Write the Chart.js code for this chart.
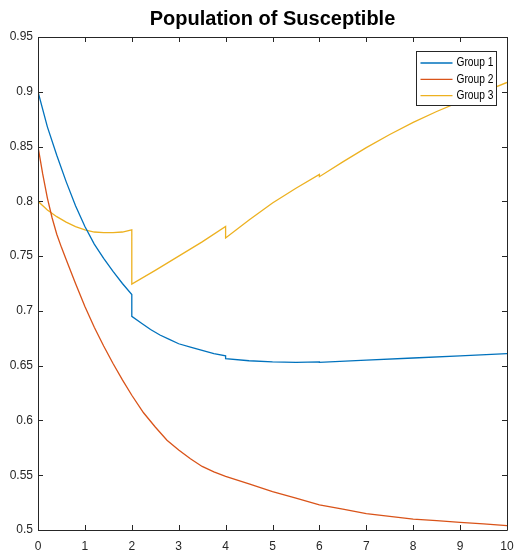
<!DOCTYPE html>
<html>
<head>
<meta charset="utf-8">
<script src="https://cdn.jsdelivr.net/npm/chart.js@4.4.1/dist/chart.umd.min.js"></script>
<style>
html,body{margin:0;padding:0;background:#fff;}
#wrap{width:514px;height:556px;position:relative;}
</style>
</head>
<body>
<div id="wrap"><canvas id="popChart" width="514" height="556"></canvas></div>
<script>

// data
const g1Time=[0,0.2,0.4,0.6,0.8,1,1.2,1.4,1.6,1.8,2,2,2.2,2.4,2.6,2.8,3,3.25,3.5,3.75,4,4,4.5,5,5.5,6,6,7,8,9,10];
const g1Vals=[0.900,0.868,0.842,0.818,0.796,0.777,0.761,0.748,0.736,0.725,0.715,0.695,0.689,0.683,0.678,0.674,0.670,0.667,0.664,0.661,0.659,0.6565,0.6545,0.6535,0.653,0.6535,0.653,0.655,0.657,0.659,0.661];

const g2Time=[0,0.1,0.2,0.3,0.4,0.5,0.6,0.8,1,1.2,1.4,1.6,1.8,2,2.25,2.5,2.75,3,3.25,3.5,3.75,4,4.5,5,5.5,6,6.5,7,7.5,8,8.5,9,9.5,10];
const g2Vals=[0.850,0.825,0.803,0.785,0.770,0.758,0.747,0.725,0.704,0.685,0.668,0.652,0.637,0.623,0.607,0.594,0.582,0.573,0.565,0.558,0.553,0.549,0.542,0.535,0.529,0.523,0.519,0.515,0.5125,0.510,0.5085,0.507,0.5055,0.504];

const g3Time=[0,0.2,0.4,0.6,0.8,1,1.2,1.4,1.6,1.8,2,2,2.5,3,3.5,4,4,4.5,5,5.5,6,6,6.5,7,7.5,8,8.5,9,9.5,10];
const g3Vals=[0.800,0.792,0.786,0.781,0.777,0.774,0.772,0.7715,0.7715,0.772,0.774,0.7245,0.737,0.750,0.763,0.777,0.7665,0.783,0.7985,0.812,0.8245,0.8225,0.836,0.849,0.861,0.872,0.882,0.891,0.900,0.9085];

const seriesNames=["Group 1","Group 2","Group 3"];
const seriesColors=["#0072BD","#D95319","#EDB120"];

const xTickValues=[0,1,2,3,4,5,6,7,8,9,10];
const yTickValues=[0.5,0.55,0.6,0.65,0.7,0.75,0.8,0.85,0.9,0.95];

const FONT="'Liberation Sans',Arial,sans-serif";
const AXIS_COLOR="#262626";

function toPoints(t,v){
    return t.map((x,i)=>({x:x,y:v[i]}));
}

// box around the axes with ticks pointing inward, like matlab
const boxPlugin={
    id:"matlabBox",
    afterDraw(chart){
        const ctx=chart.ctx;
        const a=chart.chartArea;
        const xs=chart.scales.x;
        const ys=chart.scales.y;
        const tl=5;
        ctx.save();
        ctx.strokeStyle=AXIS_COLOR;
        ctx.lineWidth=1;
        ctx.beginPath();
        ctx.rect(Math.round(a.left)+0.5,Math.round(a.top)+0.5,Math.round(a.right-a.left),Math.round(a.bottom-a.top));
        xTickValues.forEach(v=>{
            const px=Math.round(xs.getPixelForValue(v))+0.5;
            ctx.moveTo(px,a.bottom);ctx.lineTo(px,a.bottom-tl);
            ctx.moveTo(px,a.top);ctx.lineTo(px,a.top+tl);
        });
        yTickValues.forEach(v=>{
            const py=Math.round(ys.getPixelForValue(v))+0.5;
            ctx.moveTo(a.left,py);ctx.lineTo(a.left+tl,py);
            ctx.moveTo(a.right,py);ctx.lineTo(a.right-tl,py);
        });
        ctx.stroke();

        // legend box in the upper right corner
        const bx=416.5,by=51.5,bw=80,bh=54;
        ctx.fillStyle="#fff";
        ctx.fillRect(bx,by,bw,bh);
        ctx.strokeStyle=AXIS_COLOR;
        ctx.strokeRect(bx,by,bw,bh);
        chart.data.datasets.forEach((ds,i)=>{
            const y=by+11.5+i*16.3;
            ctx.strokeStyle=ds.borderColor;
            ctx.lineWidth=1.3;
            ctx.beginPath();
            ctx.moveTo(bx+4,y);ctx.lineTo(bx+36,y);
            ctx.stroke();
            // narrow the label a bit, the original font is condensed
            ctx.save();
            ctx.translate(bx+40,y);
            ctx.scale(0.85,1);
            ctx.font="12px "+FONT;
            ctx.textBaseline="middle";
            ctx.textAlign="left";
            ctx.fillStyle="#000";
            ctx.fillText(ds.label,0,0);
            ctx.restore();
        });
        ctx.restore();
    }
};

const canvas=document.getElementById("popChart");

new Chart(canvas,{
    type:"line",
    data:{
        datasets:[
            {label:seriesNames[0],data:toPoints(g1Time,g1Vals),borderColor:seriesColors[0]},
            {label:seriesNames[1],data:toPoints(g2Time,g2Vals),borderColor:seriesColors[1]},
            {label:seriesNames[2],data:toPoints(g3Time,g3Vals),borderColor:seriesColors[2]}
        ].map(d=>Object.assign(d,{borderWidth:1.3,pointRadius:0,tension:0,fill:false}))
    },
    options:{
        responsive:false,
        animation:false,
        layout:{padding:{left:0,right:7,top:0,bottom:0}},
        plugins:{
            legend:{display:false},
            tooltip:{enabled:false},
            title:{
                display:true,
                text:"Population of Susceptible",
                color:"#000",
                fullSize:false,
                font:{family:FONT,size:20,weight:"bold"},
                padding:{top:7,bottom:6}
            }
        },
        scales:{
            x:{
                type:"linear",
                min:0,max:10,
                afterBuildTicks(s){s.ticks=xTickValues.map(v=>({value:v}));},
                afterFit(s){s.height=26;s.paddingLeft=0;s.paddingRight=0;},
                grid:{display:false,drawTicks:false},
                border:{display:false},
                ticks:{color:AXIS_COLOR,padding:9,maxRotation:0,font:{family:FONT,size:12},callback:v=>String(v)}
            },
            y:{
                min:0.5,max:0.95,
                afterBuildTicks(s){s.ticks=yTickValues.map(v=>({value:v}));},
                afterFit(s){s.width=38;s.paddingTop=0;s.paddingBottom=0;},
                grid:{display:false,drawTicks:false},
                border:{display:false},
                ticks:{color:AXIS_COLOR,padding:5,font:{family:FONT,size:12},callback:v=>String(Number(v.toFixed(2)))}
            }
        }
    },
    plugins:[boxPlugin]
});

</script>
</body>
</html>
